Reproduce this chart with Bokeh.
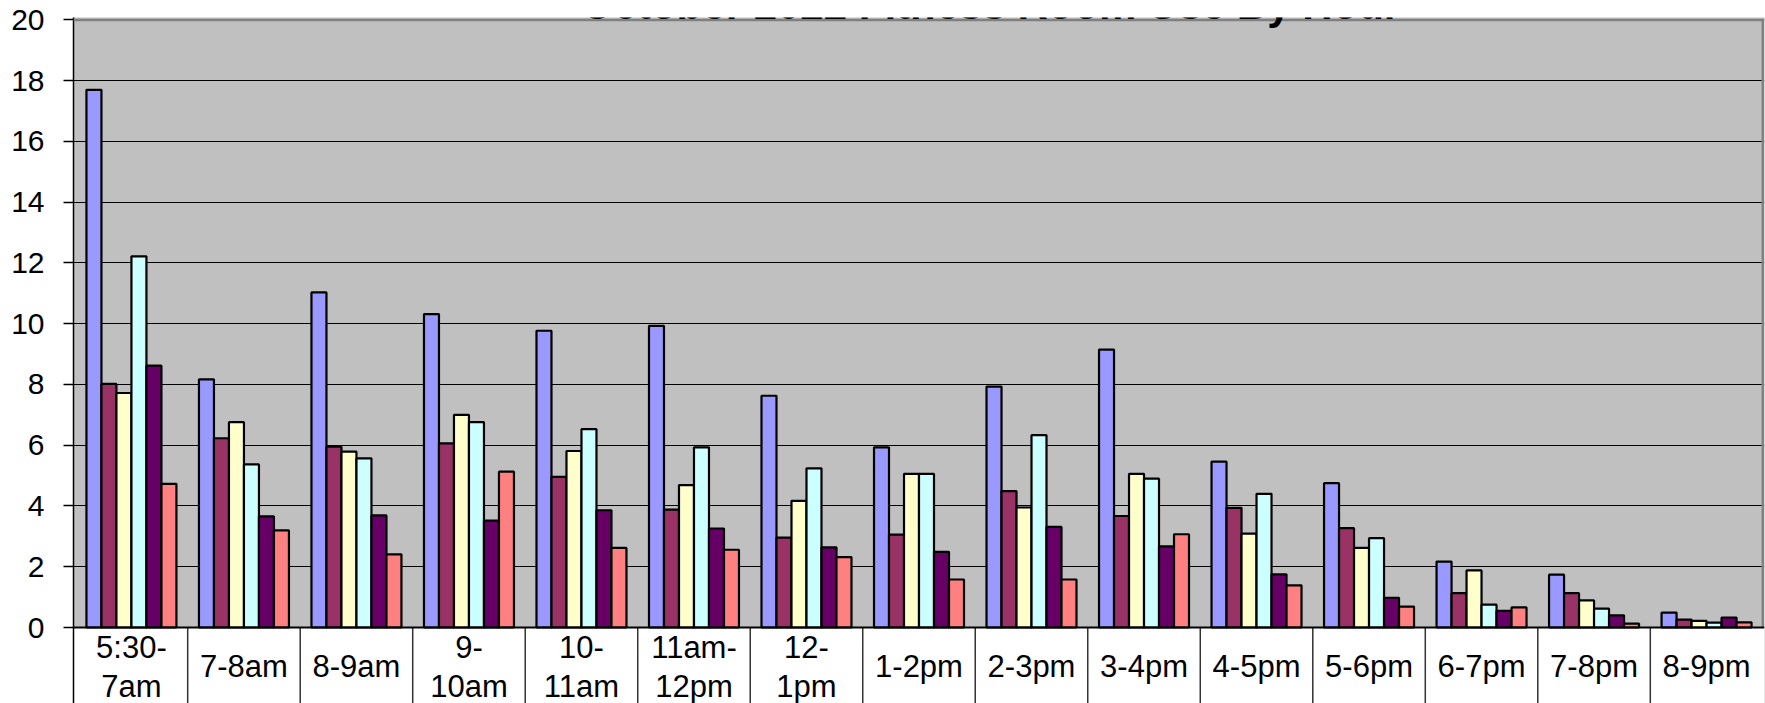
from bokeh.plotting import figure
from bokeh.models import (FactorRange, Range1d, FixedTicker, ColumnDataSource,
                          Label, Span, BoxAnnotation)
from bokeh.transform import dodge
from bokeh.core.properties import value
from bokeh.embed import file_html
from bokeh.resources import INLINE

# ---------------- data ----------------
categories = ["5:30-7am", "7-8am", "8-9am", "9-10am", "10-11am", "11am-12pm",
              "12-1pm", "1-2pm", "2-3pm", "3-4pm", "4-5pm", "5-6pm", "6-7pm",
              "7-8pm", "8-9pm"]
cat_labels = ["5:30-\n7am", "7-8am", "8-9am", "9-\n10am", "10-\n11am",
              "11am-\n12pm", "12-\n1pm", "1-2pm", "2-3pm", "3-4pm", "4-5pm",
              "5-6pm", "6-7pm", "7-8pm", "8-9pm"]
y_ticks = [0, 2, 4, 6, 8, 10, 12, 14, 16, 18, 20]

series_1 = [17.7, 8.17, 11.03, 10.32, 9.77, 9.93, 7.63, 5.93, 7.93, 9.15, 5.46, 4.75, 2.17, 1.74, 0.49]
series_2 = [8.02, 6.23, 5.95, 6.06, 4.96, 3.88, 2.96, 3.06, 4.49, 3.67, 3.94, 3.27, 1.13, 1.13, 0.26]
series_3 = [7.72, 6.76, 5.79, 7.00, 5.81, 4.69, 4.17, 5.06, 3.95, 5.06, 3.09, 2.62, 1.88, 0.89, 0.22]
series_4 = [12.22, 5.37, 5.57, 6.76, 6.53, 5.93, 5.24, 5.06, 6.33, 4.90, 4.40, 2.94, 0.75, 0.62, 0.16]
series_5 = [8.62, 3.66, 3.69, 3.52, 3.86, 3.26, 2.64, 2.49, 3.31, 2.67, 1.75, 0.98, 0.55, 0.40, 0.33]
series_6 = [4.73, 3.20, 2.41, 5.13, 2.62, 2.56, 2.32, 1.58, 1.58, 3.07, 1.39, 0.69, 0.66, 0.13, 0.17]
series_names = ["s1", "s2", "s3", "s4", "s5", "s6"]
series_values = [series_1, series_2, series_3, series_4, series_5, series_6]
series_colors = ["#9999FF", "#993366", "#FFFFCC", "#CCFFFF", "#660066", "#FF8080"]

title_text = "October 2022 Fitness Room Use By Hour"

FONT = "Liberation Sans"

# ---------------- figure ----------------
x_range = FactorRange(*categories, range_padding=0.015, range_padding_units="absolute")
y_range = Range1d(-2.502, 20.082)

p = figure(width=1765, height=703, x_range=x_range, y_range=y_range,
           output_backend="svg", toolbar_location=None, x_axis_location=None,
           min_border_left=73, min_border_right=1, min_border_top=17,
           min_border_bottom=0)
p.background_fill_color = "#C0C0C0"
p.border_fill_color = "white"
p.outline_line_color = None

# y axis
p.yaxis.ticker = FixedTicker(ticks=y_ticks)
p.yaxis.axis_line_color = "black"
p.yaxis.axis_line_width = 1.5
p.yaxis.major_tick_out = 10
p.yaxis.major_tick_in = 0
p.yaxis.major_tick_line_width = 1.5
p.yaxis.minor_tick_line_color = None
p.yaxis.major_label_standoff = 19
p.yaxis.major_label_text_font = FONT
p.yaxis.major_label_text_font_size = "30px"
p.yaxis.major_label_text_color = "black"

# grid
p.xgrid.visible = False
p.ygrid.ticker = FixedTicker(ticks=y_ticks[1:-1])
p.ygrid.grid_line_color = "black"
p.ygrid.grid_line_width = 1.2

# white label area below zero
p.add_layout(BoxAnnotation(top=0, fill_color="white", fill_alpha=1.0,
                           line_color=None, level="underlay"))

# bars
src = ColumnDataSource(dict(cat=categories, label=cat_labels,
                            **{n: v for n, v in zip(series_names, series_values)}))
bw = 0.1333
for i, (name, col) in enumerate(zip(series_names, series_colors)):
    off = (i - 2.5) * bw
    p.vbar(x=dodge("cat", off, range=p.x_range), top=name, bottom=0, width=bw,
           source=src, fill_color=col, line_color="black", line_width=2.2)

# plot borders
p.add_layout(Span(location=20, dimension="width", line_color="#808080", line_width=2.5))
p.add_layout(Span(location=0, dimension="width", line_color="black", line_width=2))
last_src = ColumnDataSource(dict(cat=categories[-1:]))
p.segment(x0=dodge("cat", 0.5, range=p.x_range), y0=0,
          x1=dodge("cat", 0.5, range=p.x_range), y1=20,
          source=last_src, line_color="#808080", line_width=2.5)

# category separators in label area
sep_src = ColumnDataSource(dict(cat=categories[:-1]))
p.segment(x0=dodge("cat", 0.5, range=p.x_range), y0=0,
          x1=dodge("cat", 0.5, range=p.x_range), y1=-2.7,
          source=sep_src, line_color="#333333", line_width=1.5)

# category labels
p.text(x="cat", y=-1.3, text="label", source=src,
       text_font=value(FONT), text_font_size="31px", text_color="black",
       text_align="center", text_baseline="middle", text_line_height=1.1)

# title (clipped at the top of the picture, as in the original)
p.add_layout(Label(x=8.136, y=20.5, text=title_text, text_font=FONT,
                   text_font_style="bold", text_font_size="42px",
                   text_color="black", text_align="center",
                   text_baseline="alphabetic"))

open("out.html", "w").write(file_html(p, INLINE))
